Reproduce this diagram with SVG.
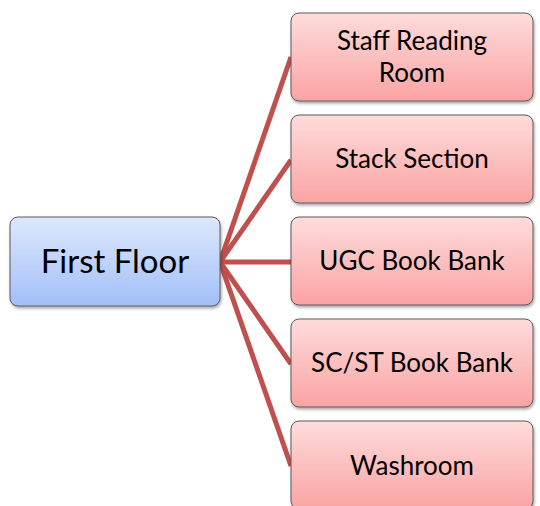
<svg xmlns="http://www.w3.org/2000/svg" width="540" height="506" viewBox="0 0 540 506">
<defs>
<linearGradient id="gb" x1="0" y1="0" x2="0" y2="1">
<stop offset="0" stop-color="#DDE8FC"/><stop offset="1" stop-color="#A2BFF8"/>
</linearGradient>
<linearGradient id="gp" x1="0" y1="0" x2="0" y2="1">
<stop offset="0" stop-color="#FEDCDC"/><stop offset="1" stop-color="#FBA3A3"/>
</linearGradient>
<filter id="sh" x="-10%" y="-10%" width="120%" height="130%">
<feDropShadow dx="1" dy="2" stdDeviation="1.5" flood-color="#000" flood-opacity="0.35"/>
</filter>
</defs>
<style>
.b{stroke:#5a5a5a;stroke-width:1;filter:url(#sh)}
.t{font-family:Lato,"Liberation Sans",sans-serif;fill:#000;text-anchor:middle}
.s{font-size:26px}
.c line{stroke:#C0504D;stroke-width:5}
</style>
<rect width="540" height="506" fill="#fff"/>
<g class="c" id="connectors">
<line x1="220" y1="262" x2="291" y2="57"/>
<line x1="220" y1="262" x2="291" y2="160"/>
<line x1="220" y1="262" x2="291" y2="262"/>
<line x1="220" y1="262" x2="291" y2="364"/>
<line x1="220" y1="262" x2="291" y2="466"/>
</g>
<g id="first-floor">
<rect class="b" x="10" y="217" width="210" height="89" rx="8" fill="url(#gb)"/>
<text class="t" x="115" y="273" font-size="33">First Floor</text>
</g>
<g id="staff-reading-room">
<rect class="b" x="291" y="13" width="242" height="88" rx="8" fill="url(#gp)"/>
<text class="t s" x="412" y="50">Staff Reading</text>
<text class="t s" x="412" y="82">Room</text>
</g>
<g id="stack-section">
<rect class="b" x="291" y="115" width="242" height="88" rx="8" fill="url(#gp)"/>
<text class="t s" x="412" y="168">Stack Section</text>
</g>
<g id="ugc-book-bank">
<rect class="b" x="291" y="217" width="242" height="88" rx="8" fill="url(#gp)"/>
<text class="t s" x="412" y="270">UGC Book Bank</text>
</g>
<g id="scst-book-bank">
<rect class="b" x="291" y="319" width="242" height="88" rx="8" fill="url(#gp)"/>
<text class="t s" x="412" y="372">SC/ST Book Bank</text>
</g>
<g id="washroom">
<rect class="b" x="291" y="421" width="242" height="88" rx="8" fill="url(#gp)"/>
<text class="t s" x="412" y="475">Washroom</text>
</g>
</svg>
